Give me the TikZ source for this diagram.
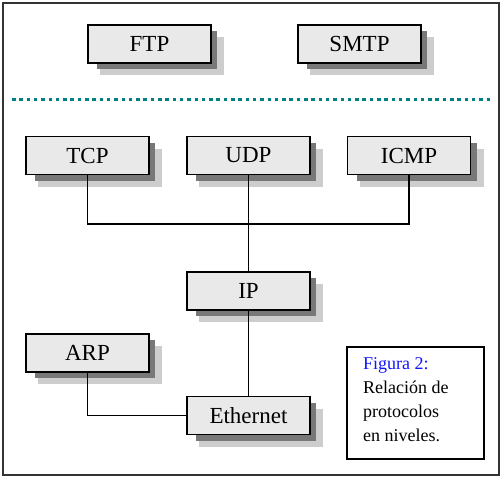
\documentclass[tikz,border=0pt]{standalone}
\usepackage{fontspec}
\setmainfont{Liberation Serif}
\definecolor{boxfill}{RGB}{233,233,233}
\definecolor{shdark}{RGB}{120,120,120}
\definecolor{shlight}{RGB}{205,205,205}
\definecolor{dotteal}{RGB}{0,128,128}
\definecolor{capblue}{RGB}{20,20,255}
\begin{document}
\begin{tikzpicture}[x=1pt,y=-1pt,
  protobox/.style={draw=black,line width=1.4pt,fill=boxfill,minimum width=123pt,minimum height=38pt,inner sep=0pt,font=\fontsize{23}{26}\selectfont},
  link/.style={draw=black,line width=1.3pt}]
\useasboundingbox (0,0) rectangle (503,480);
\fill[white] (0,0) rectangle (503,480);
\draw[line width=1.6pt,draw=black!80] (3,3) rectangle (499,475);
% shadows
\foreach \x/\y in {149.5/44, 359.5/44, 87.5/155.5, 248.5/155.5, 409/155.5, 248.5/291, 87.5/353, 248.5/415.5}{
  \fill[shlight] (\x-61.5+12,\y-19+12) rectangle (\x+61.5+13,\y+19+12);
  \fill[shdark] (\x-61.5+9,\y-19+6) rectangle (\x+61.5+6,\y+19+6);
}
\node[protobox] (ftp) at (149.5,44) {FTP};
\node[protobox] (smtp) at (359.5,44) {SMTP};
\draw[dotteal,line width=2.6pt,dash pattern=on 3.5pt off 3.8pt] (12,99.5) -- (490,99.5);
\node[protobox] (tcp) at (87.5,155.5) {TCP};
\node[protobox] (udp) at (248.5,155.5) {UDP};
\node[protobox] (icmp) at (409,155.5) {ICMP};
\node[protobox] (ip) at (248.5,291) {IP};
\node[protobox] (arp) at (87.5,353) {ARP};
\node[protobox] (eth) at (248.5,415.5) {Ethernet};
\coordinate (j) at (248.5,224);
\draw[link] (tcp.south) |- (icmp.south |- j) -- (icmp.south);
\draw[link] (udp.south) -- (ip.north);
\draw[link] (ip.south) -- (eth.north);
\draw[link] (arp.south) |- (eth.west);
\node[draw=black,line width=1.3pt,minimum width=137pt,minimum height=112pt,inner sep=0pt] (cap) at (415.5,403) {};
\node[anchor=north west,align=left,inner sep=0pt,font=\fontsize{18}{24}\selectfont] (captxt) at (363,357) {\textcolor{capblue}{Figura 2:}\\Relación de\\protocolos\\en niveles.};
\end{tikzpicture}
\end{document}
